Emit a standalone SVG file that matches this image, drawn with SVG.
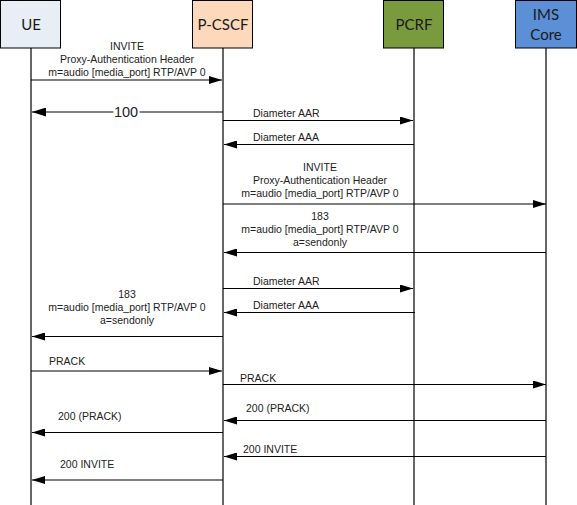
<svg xmlns="http://www.w3.org/2000/svg" width="577" height="505" viewBox="0 0 577 505">
<defs>
<style>
.box{stroke:#000;stroke-width:1}
.hd{font-family:Lato,"Liberation Sans",sans-serif;font-size:15px;fill:#1a1a1a;text-anchor:middle}
.life{stroke:#000;stroke-width:1.2;fill:none}
.msg{stroke:#000;stroke-width:1.2;fill:none}
.lbl{font-family:"Liberation Sans",Arial,sans-serif;font-size:10.5px;fill:#222}
.c{text-anchor:middle}
</style>
<marker id="ah" viewBox="0 0 13 8" refX="13" refY="4" markerWidth="13" markerHeight="8" markerUnits="userSpaceOnUse" orient="auto">
<path d="M0,0 L13,4 L0,8 z" fill="#000"/>
</marker>
<marker id="ahb" viewBox="0 0 14 9" refX="14" refY="4.5" markerWidth="14" markerHeight="9" markerUnits="userSpaceOnUse" orient="auto">
<path d="M0,0 L14,4.5 L0,9 z" fill="#000"/>
</marker>
</defs>
<rect width="577" height="505" fill="#fff"/>
<g id="lifelines">
<line class="life" x1="31" y1="48" x2="31" y2="505"/>
<line class="life" x1="223" y1="48" x2="223" y2="505"/>
<line class="life" x1="414" y1="48" x2="414" y2="505"/>
<line class="life" x1="546" y1="48" x2="546" y2="505"/>
</g>
<g id="node-ue">
<rect class="box" x="0.5" y="0.5" width="60" height="47.5" fill="#E8EEF6"/>
<text class="hd" x="31" y="29.5">UE</text>
</g>
<g id="node-pcscf">
<rect class="box" x="192.5" y="0.5" width="60" height="47.5" fill="#FCD9BB"/>
<text class="hd" x="223" y="29.5">P-CSCF</text>
</g>
<g id="node-pcrf">
<rect class="box" x="383.5" y="0.5" width="60" height="47.5" fill="#7A9A3E"/>
<text class="hd" x="414" y="29.5">PCRF</text>
</g>
<g id="node-ims">
<rect class="box" x="515.5" y="0.5" width="61" height="47.5" fill="#5B8FD6"/>
<text class="hd" x="546" y="19.5">IMS</text>
<text class="hd" x="546" y="39.5">Core</text>
</g>
<g id="connectors">
<line class="msg" x1="31" y1="80" x2="222" y2="80" marker-end="url(#ah)"/>
<line class="msg" x1="223" y1="112" x2="32" y2="112" marker-end="url(#ahb)"/>
<line class="msg" x1="223" y1="120.5" x2="413" y2="120.5" marker-end="url(#ah)"/>
<line class="msg" x1="414" y1="144.5" x2="224" y2="144.5" marker-end="url(#ah)"/>
<line class="msg" x1="223" y1="204" x2="546" y2="204" marker-end="url(#ah)"/>
<line class="msg" x1="546" y1="252.5" x2="224" y2="252.5" marker-end="url(#ah)"/>
<line class="msg" x1="223" y1="288.5" x2="413" y2="288.5" marker-end="url(#ah)"/>
<line class="msg" x1="415" y1="312.5" x2="224" y2="312.5" marker-end="url(#ah)"/>
<line class="msg" x1="223" y1="336.5" x2="32" y2="336.5" marker-end="url(#ah)"/>
<line class="msg" x1="31" y1="371" x2="222" y2="371" marker-end="url(#ah)"/>
<line class="msg" x1="223" y1="384.5" x2="546" y2="384.5" marker-end="url(#ah)"/>
<line class="msg" x1="546" y1="420.5" x2="224" y2="420.5" marker-end="url(#ah)"/>
<line class="msg" x1="223" y1="432.5" x2="32" y2="432.5" marker-end="url(#ah)"/>
<line class="msg" x1="546" y1="456.5" x2="224" y2="456.5" marker-end="url(#ah)"/>
<line class="msg" x1="223" y1="480" x2="32" y2="480" marker-end="url(#ah)"/>
</g>
<g id="labels">
<text class="lbl c" x="127" y="50">INVITE</text>
<text class="lbl c" x="127" y="63">Proxy-Authentication Header</text>
<text class="lbl c" x="127" y="76">m=audio [media_port] RTP/AVP 0</text>
<text x="126" y="117" text-anchor="middle" font-family="Liberation Sans,Arial,sans-serif" font-size="14.5" fill="#222" stroke="#fff" stroke-width="4" paint-order="stroke">100</text>
<text class="lbl" x="253" y="117">Diameter AAR</text>
<text class="lbl" x="253" y="141">Diameter AAA</text>
<text class="lbl c" x="320" y="171">INVITE</text>
<text class="lbl c" x="320" y="184">Proxy-Authentication Header</text>
<text class="lbl c" x="320" y="197">m=audio [media_port] RTP/AVP 0</text>
<text class="lbl c" x="320" y="220">183</text>
<text class="lbl c" x="320" y="233">m=audio [media_port] RTP/AVP 0</text>
<text class="lbl c" x="320" y="246">a=sendonly</text>
<text class="lbl" x="253" y="285">Diameter AAR</text>
<text class="lbl" x="253" y="309">Diameter AAA</text>
<text class="lbl c" x="127" y="298">183</text>
<text class="lbl c" x="127" y="311">m=audio [media_port] RTP/AVP 0</text>
<text class="lbl c" x="127" y="324">a=sendonly</text>
<text class="lbl" x="49" y="364.5">PRACK</text>
<text class="lbl" x="240" y="382">PRACK</text>
<text class="lbl" x="246" y="412">200 (PRACK)</text>
<text class="lbl" x="58" y="420">200 (PRACK)</text>
<text class="lbl" x="243" y="453">200 INVITE</text>
<text class="lbl" x="60" y="468">200 INVITE</text>
</g>
</svg>
